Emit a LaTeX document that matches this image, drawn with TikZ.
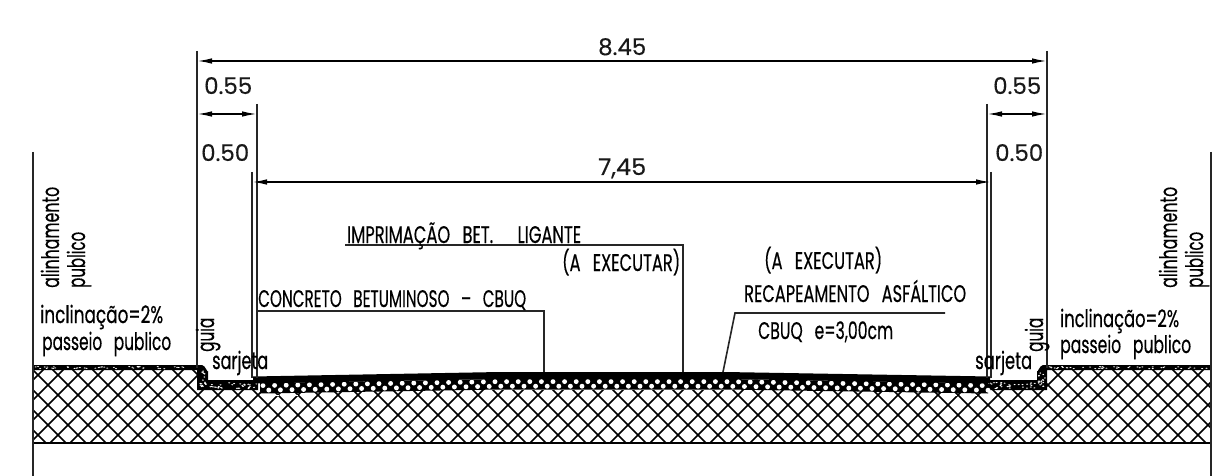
\documentclass[tikz,border=0pt]{standalone}
\usepackage{fontspec}
\usepackage{graphicx}
\setmainfont[FakeBold=0.5]{Poppins}
\usetikzlibrary{arrows.meta,calc}
\newcommand{\szA}{\addfontfeature{FakeBold=0.5}\fontsize{24}{24}\selectfont}
\newcommand{\szB}{\addfontfeature{FakeBold=0.3}\fontsize{23}{23}\selectfont}
\newcommand{\fitw}[2]{\resizebox{#1pt}{\height}{#2}}
\newcommand{\gap}{\hspace{0.75em}}
\tikzset{
  x=1pt,y=-1pt,
  ln/.style={line width=1.6pt,black!85},
  dimline/.style={line width=1.6pt,black,{Latex[length=15pt,width=5.5pt]}-{Latex[length=15pt,width=5.5pt]}},
  txt/.style={inner sep=0pt,anchor=base west,text=black,font=\szA},
  num/.style={inner sep=0pt,anchor=base west,text=black!90,font=\szB},
}
\begin{document}
\begin{tikzpicture}
\useasboundingbox (0,0) rectangle (1216,476);
\fill[white] (0,0) rectangle (1216,476);
% hatched ground
\begin{scope}
  \clip (33,368) -- (197,368) -- (197,390) -- (1047,390) -- (1047,368) -- (1211,368) -- (1211,443) -- (33,443) -- cycle;
  \foreach \k in {-30,...,70}{
    \draw[line width=1.6pt,black] ({20*\k+3},360) -- ++(90,90);
    \draw[line width=1.6pt,black] ({20*\k+3},450) -- ++(90,-90);
  }
\end{scope}
\draw[line width=1.9pt] (33,443) -- (1211,443);
% stippled sidewalk / curb layers
\fill[black] (33,365) -- (202,365) to[out=0,in=-90] (208,371) -- (208,380) -- (258,380) -- (258,390) -- (197,390) -- (197,370) -- (33,370) -- cycle;
\fill[black] (1211,365) -- (1043,365) to[out=180,in=-90] (1037,371) -- (1037,380) -- (987,380) -- (987,390) -- (1047,390) -- (1047,370) -- (1211,370) -- cycle;
\pgfmathsetseed{7}
\foreach \i in {1,...,45}{
  \pgfmathsetmacro\xa{35+rnd*160}\pgfmathsetmacro\ya{366.5+rnd*2.2}
  \fill[white] (\xa,\ya) ellipse (1.1 and 0.55);
  \pgfmathsetmacro\xb{1045+rnd*164}\pgfmathsetmacro\yb{366.5+rnd*2.2}
  \fill[white] (\xb,\yb) ellipse (1.1 and 0.55);
}
\foreach \i in {1,...,32}{
  \pgfmathsetmacro\xa{209+rnd*48}\pgfmathsetmacro\ya{382.5+rnd*6}
  \fill[white] (\xa,\ya) ellipse (1.1 and 0.6);
  \pgfmathsetmacro\xb{988+rnd*48}\pgfmathsetmacro\yb{382.5+rnd*6}
  \fill[white] (\xb,\yb) ellipse (1.1 and 0.6);
}
\foreach \i in {1,...,18}{
  \pgfmathsetmacro\xa{199+rnd*7.5}\pgfmathsetmacro\ya{371+rnd*16}
  \fill[white] (\xa,\ya) ellipse (0.9 and 0.7);
  \pgfmathsetmacro\xb{1038+rnd*7.5}\pgfmathsetmacro\yb{371+rnd*16}
  \fill[white] (\xb,\yb) ellipse (0.9 and 0.7);
}
% binder course (chain pattern) and asphalt band
\fill[black] (260,383) -- (500,379) -- (725,379) -- (988,383) -- (988,393.5) -- (725,389.5) -- (500,389.5) -- (260,393.5) -- cycle;
\foreach \k in {0,...,125}{
  \pgfmathsetmacro\xc{263+5.8*\k}
  \pgfmathsetmacro\off{\xc<500?(500-\xc)/240*4:(\xc>725?(\xc-725)/263*4:0)}
  \pgfmathsetmacro\yc{381.6+\off+mod(\k,2)*4.6}
  \fill[white] (\xc,\yc) circle (2.45);
}
\fill[black] (253,376.5) -- (500,372) -- (725,372) -- (990,376.5) -- (990,383.5) -- (725,379) -- (500,379) -- (253,383.5) -- cycle;
\draw[white,line width=1pt,dash pattern=on 7pt off 3pt] (262,395) -- (298,395);
\draw[white,line width=1pt,dash pattern=on 7pt off 3pt] (950,395) -- (986,395);
% named points
\coordinate (e1t) at (197,51);   \coordinate (e1b) at (197,368);
\coordinate (e2t) at (1047,51);  \coordinate (e2b) at (1047,368);
\coordinate (e3t) at (257,104);  \coordinate (e3b) at (257,378);
\coordinate (e4t) at (252,172);  \coordinate (e4b) at (252,378);
\coordinate (e5t) at (987,104);  \coordinate (e5b) at (987,378);
\coordinate (e6t) at (991,172);  \coordinate (e6b) at (991,378);
\coordinate (ll) at (33,152);    \coordinate (llb) at (33,476);
\coordinate (rl) at (1211,152);  \coordinate (rlb) at (1211,476);
\draw[ln] (ll) -- (llb);
\draw[ln] (rl) -- (rlb);
\foreach \a/\b in {e1t/e1b,e2t/e2b,e3t/e3b,e4t/e4b,e5t/e5b,e6t/e6b}{\draw[ln] (\a) -- (\b);}
% dimension lines
\draw[dimline] (197,61) coordinate (d1a) -- (1047,61) coordinate (d1b);
\draw[dimline] (197,114) coordinate (d2a) -- (257,114) coordinate (d2b);
\draw[dimline] (987,114) coordinate (d3a) -- (1047,114) coordinate (d3b);
\draw[dimline] (252,182) coordinate (d4a) -- (991,182) coordinate (d4b);
\node[num] (t845) at (598,55) {\fitw{48}{8.45}};
\node[num] (t55l) at (204,94) {\fitw{48}{0.55}};
\node[num] (t50l) at (201,161) {\fitw{48}{0.50}};
\node[num] (t745) at (598,175) {\fitw{48}{7,45}};
\node[num] (t55r) at (993,94) {\fitw{48}{0.55}};
\node[num] (t50r) at (995,161) {\fitw{48}{0.50}};
% leaders
\coordinate (la) at (345,245); \coordinate (lb) at (683,245); \coordinate (lc) at (683,372);
\draw[ln] (la) -- (lb) -- (lc);
\coordinate (ma) at (257,311); \coordinate (mb) at (544,311); \coordinate (mc) at (544,372);
\draw[ln] (ma) -- (mb) -- (mc);
\coordinate (ra) at (945,313); \coordinate (rb) at (735,313); \coordinate (rc) at (723,372);
\draw[ln] (ra) -- (rb) -- (rc);
% labels
\node[txt] (imp) at (347,243) {\fitw{234}{IMPRIMAÇÃO\gap BET.\gap\gap LIGANTE}};
\node[txt] (ex1) at (562,271) {\fitw{118}{(A\gap EXECUTAR)}};
\node[txt] (con) at (258,307) {\fitw{268}{CONCRETO\gap BETUMINOSO\gap –\gap CBUQ}};
\node[txt] (ex2) at (764,269) {\fitw{118}{(A\gap EXECUTAR)}};
\node[txt] (rec) at (744,302) {\fitw{222}{RECAPEAMENTO\gap ASFÁLTICO}};
\node[txt] (cbq) at (758,339) {\fitw{135}{CBUQ\gap e=3,00cm}};
\node[txt] (inl) at (40,323) {\fitw{123}{inclinação=2\%}};
\node[txt] (pal) at (42,350) {\fitw{129}{passeio\gap publico}};
\node[txt] (inr) at (1060,327) {\fitw{119}{inclinação=2\%}};
\node[txt] (par) at (1060,353) {\fitw{131}{passeio\gap publico}};
\node[txt] (sal) at (212,369) {\fitw{56}{sarjeta}};
\node[txt] (sar) at (975,369) {\fitw{57}{sarjeta}};
\node[txt,rotate=90] (gul) at (214,352) {\fitw{34}{guia}};
\node[txt,rotate=90] (gur) at (1043,352) {\fitw{34}{guia}};
\node[txt,rotate=90] (al1) at (59,288) {\fitw{101}{alinhamento}};
\node[txt,rotate=90] (pu1) at (85,288) {\fitw{56}{publico}};
\node[txt,rotate=90] (al2) at (1177,288) {\fitw{101}{alinhamento}};
\node[txt,rotate=90] (pu2) at (1203,288) {\fitw{56}{publico}};
\end{tikzpicture}
\end{document}
